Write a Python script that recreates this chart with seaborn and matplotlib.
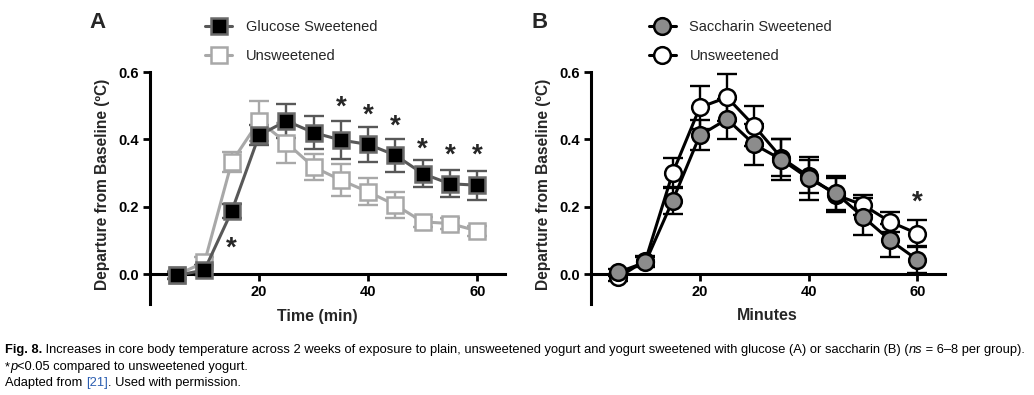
import matplotlib

matplotlib.use("Agg")
import matplotlib.pyplot as plt
import pandas as pd
import seaborn as sns

minutes = [5, 10, 15, 20, 25, 30, 35, 40, 45, 50, 55, 60]

# panel A
glucose = [-0.004, 0.012, 0.187, 0.412, 0.455, 0.42, 0.398, 0.385, 0.353, 0.298, 0.268, 0.264]
glucose_err = [0.01, 0.015, 0.02, 0.03, 0.05, 0.05, 0.057, 0.052, 0.049, 0.04, 0.04, 0.043]
plain_a = [-0.002, 0.035, 0.333, 0.455, 0.39, 0.318, 0.279, 0.244, 0.205, 0.155, 0.15, 0.128]
plain_a_err = [0.01, 0.015, 0.03, 0.06, 0.06, 0.04, 0.047, 0.04, 0.04, 0.015, 0.015, 0.015]
stars_a_x = [15, 35, 40, 45, 50, 55, 60]
stars_a_y = [0.075, 0.495, 0.47, 0.437, 0.37, 0.352, 0.352]

# panel B
saccharin = [0.005, 0.035, 0.218, 0.412, 0.46, 0.385, 0.34, 0.284, 0.24, 0.17, 0.10, 0.042]
saccharin_err = [0.01, 0.015, 0.04, 0.045, 0.06, 0.06, 0.06, 0.065, 0.05, 0.055, 0.05, 0.04]
plain_b = [-0.01, 0.04, 0.30, 0.495, 0.525, 0.44, 0.345, 0.29, 0.235, 0.205, 0.155, 0.12]
plain_b_err = [0.01, 0.015, 0.045, 0.065, 0.07, 0.06, 0.055, 0.05, 0.05, 0.03, 0.03, 0.04]
stars_b_x = [60]
stars_b_y = [0.212]

sns.set_theme(style="ticks")
plt.rcParams["font.family"] = ["Liberation Sans", "DejaVu Sans"]

fig = plt.figure(figsize=(10.34, 3.95), dpi=100)
ax_a = fig.add_axes([0.145, 0.2296, 0.343, 0.605])
ax_b = fig.add_axes([0.5716, 0.2296, 0.342, 0.605])


def draw_series(ax, y, err, line_c, face_c, edge_c, marker, ms, label):
    df = pd.DataFrame({"min": minutes, "y": y})
    ax.errorbar(minutes, y, yerr=err, fmt="none", ecolor=line_c, elinewidth=1.7,
                capsize=7.5, capthick=1.7, zorder=2)
    sns.lineplot(data=df, x="min", y="y", ax=ax, color=line_c, lw=2.2,
                 marker=marker, markersize=ms, markerfacecolor=face_c,
                 markeredgecolor=edge_c, markeredgewidth=1.8, label=label, zorder=3)


def style_axes(ax, order, legend_x):
    ax.set_xlim(0, 65)
    ax.set_ylim(-0.09, 0.62)
    ax.spines["right"].set_visible(False)
    ax.spines["top"].set_visible(False)
    ax.spines["bottom"].set_position(("data", 0))
    ax.spines["left"].set_bounds(-0.09, 0.6)
    for s in ("left", "bottom"):
        ax.spines[s].set_linewidth(2.2)
        ax.spines[s].set_color("black")
    ax.set_xticks([20, 40, 60])
    ax.set_yticks([0.0, 0.2, 0.4, 0.6])
    ax.set_yticklabels(["0.0", "0.2", "0.4", "0.6"])
    ax.tick_params(width=2, length=5, labelsize=10.5, colors="black", pad=3)
    for t in ax.get_xticklabels() + ax.get_yticklabels():
        t.set_fontweight("bold")
    ax.set_xlabel("")
    ax.set_ylabel("Departure from Baseline (ºC)", fontsize=11.2, fontweight="bold", labelpad=6)
    handles, labels = ax.get_legend_handles_labels()
    ax.legend([handles[i] for i in order], [labels[i] for i in order],
              loc="lower left", bbox_to_anchor=(legend_x, 0.972), frameon=False, fontsize=10.5,
              handlelength=1.9, labelspacing=1.02, handletextpad=0.9, borderaxespad=0.2)


# unsweetened drawn first so the sweetened markers sit on top
draw_series(ax_a, plain_a, plain_a_err, "#a8a8a8", "white", "#a8a8a8", "s", 11, "Unsweetened")
draw_series(ax_a, glucose, glucose_err, "#585858", "black", "#6a6a6a", "s", 11, "Glucose Sweetened")
style_axes(ax_a, [1, 0], 0.13)
for x, y in zip(stars_a_x, stars_a_y):
    ax_a.text(x, y, "*", ha="center", va="center", fontsize=20, fontweight="bold")

draw_series(ax_b, plain_b, plain_b_err, "black", "white", "black", "o", 12, "Unsweetened")
draw_series(ax_b, saccharin, saccharin_err, "black", "#8c8c8c", "black", "o", 12, "Saccharin Sweetened")
style_axes(ax_b, [1, 0], 0.138)
for x, y in zip(stars_b_x, stars_b_y):
    ax_b.text(x, y, "*", ha="center", va="center", fontsize=20, fontweight="bold")

fig.text(317 / 1034, 1 - 316 / 395, "Time (min)", ha="center", va="center",
         fontsize=11.5, fontweight="bold")
fig.text(767 / 1034, 1 - 316 / 395, "Minutes", ha="center", va="center",
         fontsize=11.5, fontweight="bold")
fig.text(97 / 1034, 1 - 22 / 395, "A", ha="center", va="center", fontsize=16, fontweight="bold")
fig.text(540 / 1034, 1 - 22 / 395, "B", ha="center", va="center", fontsize=16, fontweight="bold")

# caption, written piece by piece so bold / italic / blue runs sit inline
cap_font = ["Liberation Sans", "DejaVu Sans"]
caption = [
    [("Fig. 8.", "bold", "normal", "black"),
     (" Increases in core body temperature across 2 weeks of exposure to plain, unsweetened yogurt "
      "and yogurt sweetened with glucose (A) or saccharin (B) (", "normal", "normal", "black"),
     ("ns", "normal", "italic", "black"),
     (" = 6–8 per group).", "normal", "normal", "black")],
    [("*", "normal", "normal", "black"), ("p", "normal", "italic", "black"),
     ("<0.05 compared to unsweetened yogurt.", "normal", "normal", "black")],
    [("Adapted from ", "normal", "normal", "black"), ("[21]", "normal", "normal", "#2a5db0"),
     (". Used with permission.", "normal", "normal", "black")],
]
renderer = fig.canvas.get_renderer()

# shrink the caption size until the first (longest) line fits the page width
size = 10.0
probe = fig.text(0, 0, "".join(p[0] for p in caption[0]), fontsize=size, family=cap_font)
w = probe.get_window_extent(renderer).width
probe.remove()
size = min(size, size * 1022 / w)

line_y = [350, 367, 383]
for parts, yp in zip(caption, line_y):
    x = 5
    for txt, weight, style, color in parts:
        t = fig.text(x / 1034, 1 - yp / 395, txt, ha="left", va="center", fontsize=size,
                     fontweight=weight, fontstyle=style, color=color, family=cap_font)
        x += t.get_window_extent(renderer).width

fig.savefig("out.png", dpi=100)
